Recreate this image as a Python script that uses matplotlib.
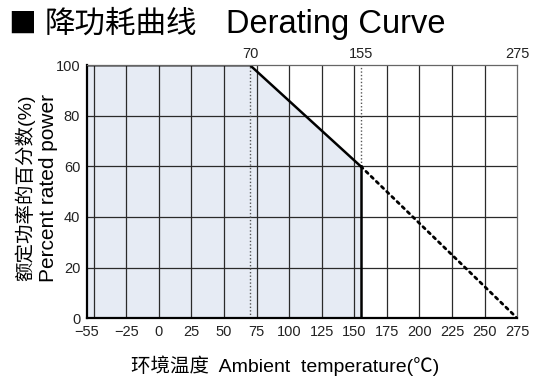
import matplotlib.pyplot as plt
from matplotlib.patches import Polygon

# ------------------------------------------------------------
# Data
# ------------------------------------------------------------
knee_temps = [-55, 70, 155]          # rated region and derating segment
knee_power = [100, 100, 60]
cutoff_temp = 155                     # max operating temperature
cutoff_power = 60
extrap_temps = [155, 275]             # extrapolation to zero power
extrap_power = [60, 0]

bottom_ticks = [-55, -25, 0, 25, 50, 75, 100, 125, 150, 175, 200, 225, 250, 275]
top_ticks = [70, 155, 275]
grid_x = [-50, -25, 0, 25, 50, 75, 100, 125, 150, 175, 200, 225, 250]
y_ticks = [0, 20, 40, 60, 80, 100]

title_cn = "降功耗曲线"
title_en = "Derating Curve"
ylabel_cn = "额定功率的百分数(%)"
ylabel_en = "Percent rated power"
xlabel = "环境温度  Ambient  temperature(℃)"

FONT = ["Liberation Sans", "Noto Sans CJK SC", "DejaVu Sans"]
plt.rcParams["font.family"] = FONT

fig = plt.figure(figsize=(5.41, 3.88), dpi=100)
ax = fig.add_axes([0.161, 0.180, 0.795, 0.652])

ax.set_xlim(-55, 275)
ax.set_ylim(0, 100)

# shaded safe operating area
area = [(knee_temps[0], 0)] + list(zip(knee_temps, knee_power)) + [(cutoff_temp, 0)]
ax.add_patch(Polygon(area, closed=True, facecolor="#e6ebf4", edgecolor="none", zorder=1))

# grid
for gx in grid_x:
    ax.axvline(gx, color="#2a2a2a", lw=0.9, zorder=2)
for gy in y_ticks[1:-1]:
    ax.axhline(gy, color="#2a2a2a", lw=0.9, zorder=2)

# reference dotted verticals
ax.axvline(knee_temps[1], color="#555555", lw=1.0, ls=(0, (1, 1.5)), zorder=3)
ax.plot([cutoff_temp, cutoff_temp], [cutoff_power, 100], color="#555555",
        lw=1.0, ls=(0, (1, 1.5)), zorder=3)

# curve
ax.plot(knee_temps, knee_power, color="black", lw=1.8, zorder=4, solid_capstyle="butt")
ax.plot([cutoff_temp, cutoff_temp], [cutoff_power, 0], color="black", lw=1.8, zorder=4)
ax.plot(extrap_temps, extrap_power, color="black", lw=2.0, ls=(0, (1, 1.6)),
        dash_capstyle="round", zorder=4)

# frame
for side in ["top", "right"]:
    ax.spines[side].set_color("#666666")
    ax.spines[side].set_linewidth(0.9)
for side in ["left", "bottom"]:
    ax.spines[side].set_color("black")
    ax.spines[side].set_linewidth(1.6)
for s in ax.spines.values():
    s.set_zorder(5)

ax.set_xticks(bottom_ticks)
ax.set_xticklabels([str(t).replace("-", "−") for t in bottom_ticks], fontsize=10.5)
ax.set_yticks(y_ticks)
ax.set_yticklabels([str(t) for t in y_ticks], fontsize=10.5)
ax.tick_params(length=0, pad=5, colors="#222222")

top = ax.secondary_xaxis("top")
top.set_xticks(top_ticks)
top.set_xticklabels([str(t) for t in top_ticks], fontsize=10.5)
top.tick_params(length=0, pad=3, colors="#222222")
top.spines["top"].set_visible(False)

fig.text(0.527, 0.057, xlabel, fontsize=14, ha="center", va="center")

fig.text(0.047, 0.515, ylabel_cn, rotation=90, ha="center", va="center", fontsize=14)
fig.text(0.090, 0.515, ylabel_en, rotation=90, ha="center", va="center", fontsize=15)

fig.text(0.015, 0.937, "■", fontsize=20, ha="left", va="center",
         family=["Noto Sans CJK SC", "DejaVu Sans"])
fig.text(0.083, 0.937, title_cn, fontsize=22, ha="left", va="center")
fig.text(0.418, 0.937, title_en, fontsize=23.5, ha="left", va="center")

fig.savefig("out.png", dpi=100)
